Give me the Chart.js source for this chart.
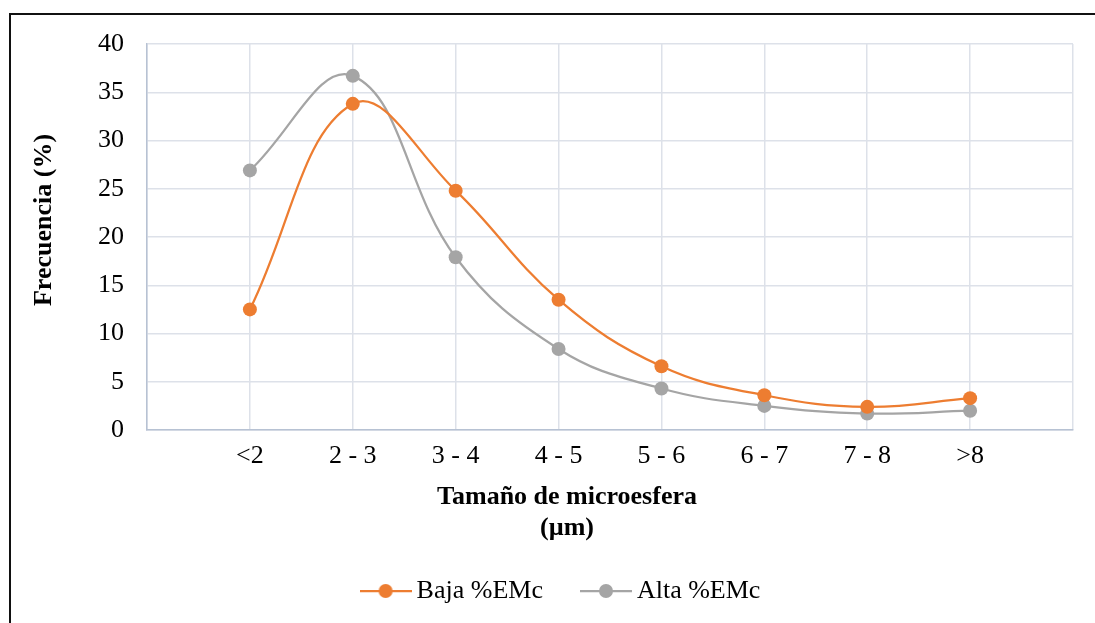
<!DOCTYPE html>
<html>
<head>
<meta charset="utf-8">
<script src="https://cdn.jsdelivr.net/npm/chart.js@4/dist/chart.umd.min.js"></script>
<style>
  html, body { margin: 0; padding: 0; background: #fff; overflow: hidden; }
  #wrap { position: relative; width: 1095px; height: 623px; }
  #c { position: absolute; left: 0; top: 0; }
  #frame { position: absolute; left: 9px; top: 13px; width: 1200px; height: 700px;
           border-top: 2px solid #111; border-left: 2px solid #111; pointer-events: none; }
</style>
</head>
<body>
<div id="wrap">
  <canvas id="c" width="1095" height="623"></canvas>
  <div id="frame"></div>
</div>
<script>
// ---- data ----
const categories = ['', '<2', '2 - 3', '3 - 4', '4 - 5', '5 - 6', '6 - 7', '7 - 8', '>8', ''];
const bajaValues = [null, 12.5, 33.8, 24.8, 13.5, 6.6, 3.6, 2.4, 3.3, null];
const altaValues = [null, 26.9, 36.7, 17.9, 8.4, 4.3, 2.5, 1.7, 2.0, null];
const seriesNames = ['Baja %EMc', 'Alta %EMc'];
const yTicks = { min: 0, max: 40, step: 5 };
const xTitle = ['Tamaño de microesfera', '(µm)'];
const yTitle = 'Frecuencia (%)';

const ORANGE = '#ED7D31';
const GRAY = '#A5A5A5';
const FONT = "'Liberation Serif', 'Times New Roman', serif";

function legendIcon(color) {
  const c = document.createElement('canvas');
  c.width = 52; c.height = 16;
  const g = c.getContext('2d');
  g.strokeStyle = color; g.lineWidth = 2.25;
  g.beginPath(); g.moveTo(0, 8); g.lineTo(52, 8); g.stroke();
  g.fillStyle = color;
  g.beginPath(); g.arc(26, 8, 7, 0, Math.PI * 2); g.fill();
  return c;
}
const icons = [legendIcon(ORANGE), legendIcon(GRAY)];

const axisTitlesPlugin = {
  id: 'axisTitlesPlugin',
  afterDraw(chart) {
    const ctx = chart.ctx;
    ctx.save();
    ctx.font = "bold 26px " + FONT;
    ctx.fillStyle = '#000';
    ctx.textAlign = 'center';
    ctx.textBaseline = 'middle';
    // x-axis title (two lines)
    xTitle.forEach((line, i) => ctx.fillText(line, 567, 497 + i * 31));
    // y-axis title (rotated)
    ctx.translate(44, 220);
    ctx.rotate(-Math.PI / 2);
    ctx.fillText(yTitle, 0, 0);
    ctx.restore();
  }
};

new Chart(document.getElementById('c'), {
  type: 'line',
  data: {
    labels: categories,
    datasets: [
      { label: seriesNames[0], data: bajaValues, borderColor: ORANGE, backgroundColor: ORANGE,
        pointBackgroundColor: ORANGE, pointBorderColor: ORANGE, pointRadius: 7, pointBorderWidth: 0,
        borderWidth: 2.25, tension: 0.4, spanGaps: true },
      { label: seriesNames[1], data: altaValues, borderColor: GRAY, backgroundColor: GRAY,
        pointBackgroundColor: GRAY, pointBorderColor: GRAY, pointRadius: 7, pointBorderWidth: 0,
        borderWidth: 2.25, tension: 0.4, spanGaps: true }
    ]
  },
  options: {
    responsive: false,
    animation: false,
    devicePixelRatio: 1,
    layout: { padding: { left: 55, right: 22, top: 44, bottom: 9 } },
    scales: {
      x: {
        type: 'category',
        offset: false,
        afterFit(s) { s.height = 103; },
        grid: { color: '#DDE1E9', lineWidth: 1.5, drawTicks: false },
        border: { color: '#B7C2D3', width: 1.5 },
        ticks: { autoSkip: false, maxRotation: 0, padding: 11, color: '#000',
                 font: { family: FONT, size: 26 } }
      },
      y: {
        min: yTicks.min, max: yTicks.max,
        afterFit(s) { s.width = 92; },
        grid: { color: '#DDE1E9', lineWidth: 1.5, drawTicks: false },
        border: { color: '#B7C2D3', width: 1.5 },
        ticks: { stepSize: yTicks.step, padding: 23, color: '#000',
                 font: { family: FONT, size: 26 } }
      }
    },
    plugins: {
      tooltip: { enabled: false },
      legend: {
        position: 'bottom',
        labels: {
          usePointStyle: true, pointStyleWidth: 36, padding: 45, color: '#000',
          font: { family: FONT, size: 26 },
          generateLabels(chart) {
            const items = Chart.defaults.plugins.legend.labels.generateLabels(chart);
            items.forEach((it, i) => { it.pointStyle = icons[i]; });
            return items;
          }
        }
      }
    }
  },
  plugins: [axisTitlesPlugin]
});
</script>
</body>
</html>
